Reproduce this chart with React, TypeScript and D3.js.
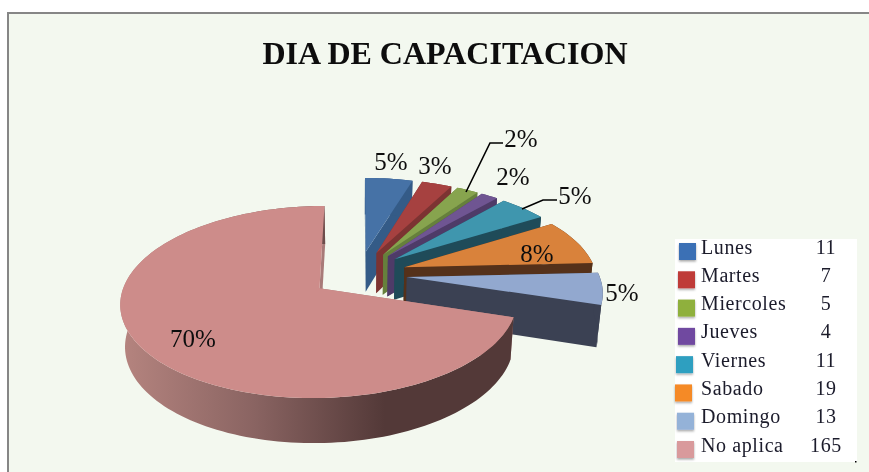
import React from "react";
import * as d3 from "d3";

const categories = ["Lunes", "Martes", "Miercoles", "Jueves", "Viernes", "Sabado", "Domingo", "No aplica"];
const values = [11, 7, 5, 4, 11, 19, 13, 165];
const percentLabels = ["5%", "3%", "2%", "2%", "5%", "8%", "5%", "70%"];
const topColors = ["#4672a6", "#a64140", "#87a44e", "#6f5592", "#3f96ae", "#d9823b", "#92a8cf", "#cd8c8a"];
const wallColors = ["#345b87", "#7c3332", "#66803c", "#4e3b68", "#1f4b59", "#55311a", "#3b4153", "#a87a78"];
const legendColors = ["#3a70b5", "#bf3a38", "#8fb03c", "#6f4aa0", "#2f9fc0", "#f58a28", "#94b2d8", "#d99a9c"];
const swatchX = [679, 678, 678, 678, 676, 675, 677, 677];
const labelAnchors: [number, number][] = [
  [391, 161], [435, 165], [521, 138], [513, 176], [575, 195], [537, 253], [622, 292], [193, 338],
];
const leaderLines: [number, number][][] = [
  [[466, 192], [490, 143], [503, 143]],
  [[522, 209], [543, 200], [557, 200]],
];

const Cx = 359, Cy = 274, Rx = 192, Ry = 90, D = 7.09, explodeX = 0.25, explodeY = 0.26;
const TAU = Math.PI * 2;

type Pt = [number, number];
function project(X: number, Y: number): Pt {
  const s = D / (D - Y);
  return [Cx + Rx * X * s, Cy + Ry * Y * s];
}
function dropped(X: number, Y: number): Pt {
  const [x, y] = project(X, Y);
  return [Cx + (x - Cx) * 0.98, y + 41 + 3.5 * Y];
}

const pieGen = d3.pie<number>().sort(null).startAngle(0).endAngle(TAU);
const arcs = pieGen(values);
const line = d3.line<Pt>().x((d) => d[0]).y((d) => d[1]);

function worldPoints(a0: number, a1: number, mid: number) {
  const ax = explodeX * Math.sin(mid), ay = -explodeY * Math.cos(mid);
  const n = Math.max(4, Math.ceil((a1 - a0) / 0.03));
  const thetas = d3.range(n + 1).map((i) => a0 + ((a1 - a0) * i) / n);
  const rim = thetas.map((t) => [ax + Math.sin(t), ay - Math.cos(t)] as Pt);
  return { apex: [ax, ay] as Pt, rim };
}

export default function App() {
  const slices = arcs.map((a, i) => {
    const mid = (a.startAngle + a.endAngle) / 2;
    const { apex, rim } = worldPoints(a.startAngle, a.endAngle, mid);
    const topPts = [apex, ...rim].map((p) => project(p[0], p[1]));
    const rimTop = rim.map((p) => project(p[0], p[1]));
    const rimBot = rim.map((p) => dropped(p[0], p[1]));
    const first = rim[0], last = rim[rim.length - 1];
    const wall = (p: Pt) =>
      [project(apex[0], apex[1]), project(p[0], p[1]), dropped(p[0], p[1]), dropped(apex[0], apex[1])] as Pt[];
    return {
      i,
      top: line(topPts) + "Z",
      startWall: line(wall(first)) + "Z",
      endWall: line(wall(last)) + "Z",
      rimWall: line([...rimTop, ...rimBot.slice().reverse()]) + "Z",
    };
  });

  const legendY = d3.scalePoint<number>().domain(d3.range(categories.length)).range([248, 446]);

  return (
    <svg
      width={869}
      height={472}
      style={{ position: "absolute", left: 0, top: 0, display: "block" }}
      fontFamily="'Liberation Serif', serif"
    >
      <defs>
        <linearGradient id="rimGrad" gradientUnits="userSpaceOnUse" x1={122} x2={385} y1={0} y2={0}>
          <stop offset="0" stopColor="#b5847f" />
          <stop offset="0.5" stopColor="#8a6462" />
          <stop offset="1" stopColor="#533938" />
        </linearGradient>
        <filter id="swShadow" x="-30%" y="-30%" width="160%" height="160%">
          <feDropShadow dx="0" dy="1.5" stdDeviation="1" floodColor="#000" floodOpacity="0.35" />
        </filter>
        <filter id="soft" x="-5%" y="-20%" width="110%" height="140%">
          <feGaussianBlur stdDeviation="0.35" />
        </filter>
      </defs>
      <rect x={0} y={0} width={869} height={472} fill="#ffffff" />
      <rect x={8} y={13} width={880} height={480} fill="#f3f8ef" stroke="#868686" strokeWidth={2} />

      <text x={445} y={64} textAnchor="middle" fontSize={32} fontWeight="bold" fill="#0a0a0a" filter="url(#soft)">
        DIA DE CAPACITACION
      </text>

      {slices.map((s) => (
        <g key={s.i}>
          <path d={s.startWall} fill={wallColors[s.i]} />
          <path d={s.endWall} fill={wallColors[s.i]} />
          <path d={s.rimWall} fill={s.i === 7 ? "url(#rimGrad)" : wallColors[s.i]} />
          <path d={s.top} fill={topColors[s.i]} />
        </g>
      ))}

      {leaderLines.map((l, i) => (
        <path key={i} d={line(l as Pt[]) as string} fill="none" stroke="#000" strokeWidth={1.6} />
      ))}

      {percentLabels.map((t, i) => (
        <text
          key={i}
          x={labelAnchors[i][0]}
          y={labelAnchors[i][1]}
          textAnchor="middle"
          dominantBaseline="central"
          fontSize={25}
          fill="#111"
          filter="url(#soft)"
        >
          {t}
        </text>
      ))}

      <rect x={675} y={239} width={182} height={223} fill="#ffffff" />
      <rect x={855} y={461} width={1.5} height={1.5} fill="#000" />
      {categories.map((c, i) => {
        const y = legendY(i) as number;
        return (
          <g key={c}>
            <rect x={swatchX[i]} y={y - 5} width={17} height={17} fill={legendColors[i]} filter="url(#swShadow)" />
            <text x={701} y={y + 5.5} fontSize={20} fill="#1a1a2a" letterSpacing={0.6} filter="url(#soft)">
              {c}
            </text>
            <text x={826} y={y + 5.5} textAnchor="middle" fontSize={20} fill="#1a1a2a" letterSpacing={0.6} filter="url(#soft)">
              {values[i]}
            </text>
          </g>
        );
      })}
    </svg>
  );
}
